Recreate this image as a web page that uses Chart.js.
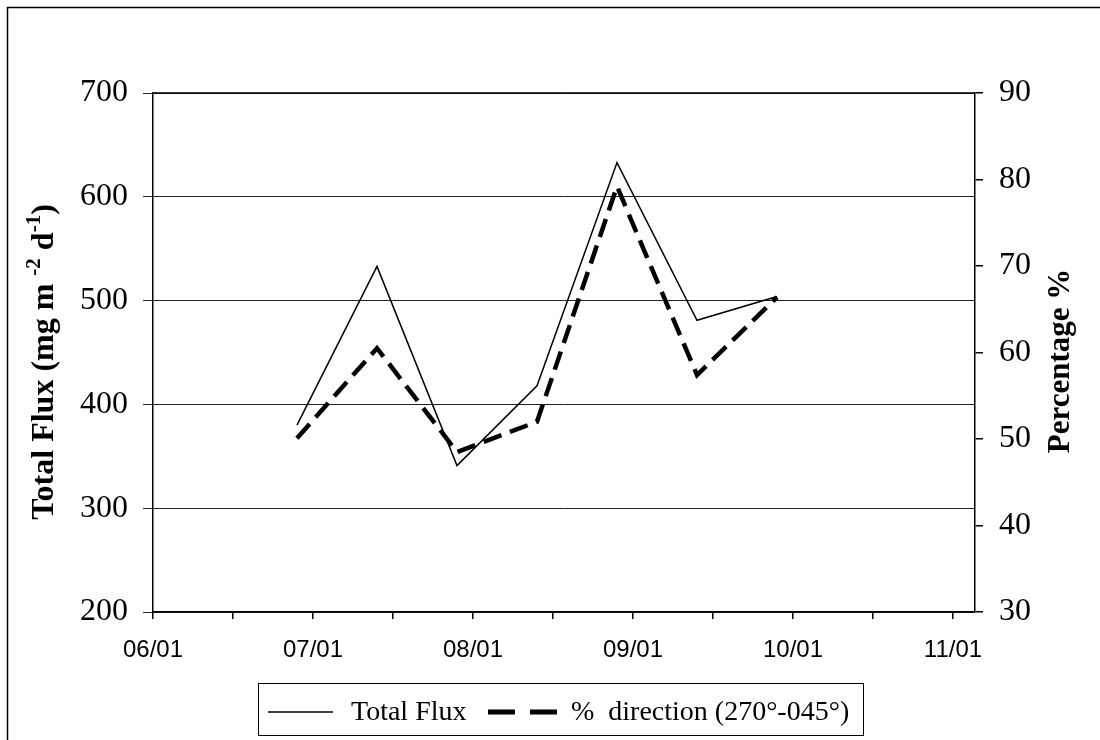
<!DOCTYPE html>
<html>
<head>
<meta charset="utf-8">
<script src="https://cdn.jsdelivr.net/npm/chart.js@4"></script>
<style>
  html, body { margin: 0; padding: 0; background: #fff; }
  #wrap { width: 1100px; height: 740px; }
</style>
</head>
<body>
<div id="wrap"><canvas id="myChart" width="1100" height="740"></canvas></div>
<script>
const ctx = document.getElementById('myChart');

// Sampling dates, in months after 06/01 (about every half month)
const sampleMonths = [0.9, 1.4, 1.9, 2.4, 2.9, 3.4, 3.9];
// Total flux (mg m-2 d-1), left axis
const totalFlux = [380, 533, 341, 418, 633, 481, 504];
// % of wind direction 270°-045°, right axis
const pctDirection = [50.1, 60.5, 48.5, 52.0, 79.2, 57.4, 66.4];
// x axis labels (one per month)
const monthLabels = ['06/01', '07/01', '08/01', '09/01', '10/01', '11/01'];

const serif = "'Liberation Serif', 'Times New Roman', serif";
const sans = "'Liberation Sans', Arial, sans-serif";

const toPoints = (ys) => ys.map((y, i) => ({ x: sampleMonths[i], y: y }));

// draws frame, axis titles and the boxed legend
const extras = {
    id: 'extras',
    afterDraw(chart) {
        const c = chart.ctx;
        const a = chart.chartArea;
        c.save();
        c.strokeStyle = '#000';

        // outer border of the chart object
        c.lineWidth = 1.5;
        c.strokeRect(7.5, 7.5, 1100, 740);

        // top edge of the plot box
        c.beginPath();
        c.moveTo(a.left, a.top);
        c.lineTo(a.right, a.top);
        c.stroke();

        c.fillStyle = '#000';
        // left title with superscripts
        c.save();
        c.translate(43, 362);
        c.rotate(-Math.PI / 2);
        const big = 'bold 32px ' + serif;
        const small = 'bold 21px ' + serif;
        const parts = [
            { t: 'Total Flux (mg m ', f: big, dy: 0 },
            { t: '-2', f: small, dy: -13 },
            { t: ' d', f: big, dy: 0 },
            { t: '-1', f: small, dy: -13 },
            { t: ')', f: big, dy: 0 }
        ];
        let w = 0;
        parts.forEach(p => { c.font = p.f; w += c.measureText(p.t).width; });
        let x = -w / 2;
        c.textBaseline = 'alphabetic';
        parts.forEach(p => {
            c.font = p.f;
            c.fillText(p.t, x, 10 + p.dy);
            x += c.measureText(p.t).width;
        });
        c.restore();

        // right title
        c.save();
        c.translate(1061, 361);
        c.rotate(-Math.PI / 2);
        c.font = 'bold 31px ' + serif;
        c.textAlign = 'center';
        c.textBaseline = 'middle';
        c.fillText('Percentage %', 0, 0);
        c.restore();

        // legend
        c.lineWidth = 1;
        c.strokeRect(258.5, 683.5, 605, 52);
        const ly = 712;
        c.lineWidth = 1.5;
        c.beginPath();
        c.moveTo(268, ly);
        c.lineTo(333, ly);
        c.stroke();
        c.lineWidth = 5;
        c.beginPath();
        c.moveTo(488, ly); c.lineTo(515, ly);
        c.moveTo(530, ly); c.lineTo(557, ly);
        c.stroke();
        c.font = '28px ' + serif;
        c.textBaseline = 'middle';
        c.textAlign = 'left';
        c.fillText('Total Flux', 351, ly + 1);
        c.fillText('%  direction (270°-045°)', 571, ly + 1);
        c.restore();
    }
};

new Chart(ctx, {
    type: 'line',
    data: {
        datasets: [{
            label: 'Total Flux',
            data: toPoints(totalFlux),
            yAxisID: 'y',
            borderColor: '#000',
            borderWidth: 1.5,
            pointRadius: 0,
            tension: 0
        }, {
            label: '% direction (270°-045°)',
            data: toPoints(pctDirection),
            yAxisID: 'y1',
            borderColor: '#000',
            borderWidth: 4.5,
            borderDash: [19, 9],
            pointRadius: 0,
            tension: 0
        }]
    },
    options: {
        responsive: false,
        animation: false,
        layout: { padding: { top: 93, left: 0, right: 0, bottom: 0 } },
        plugins: {
            legend: { display: false },
            tooltip: { enabled: false }
        },
        scales: {
            x: {
                type: 'linear',
                min: 0,
                max: 5.1375,
                afterBuildTicks: (scale) => {
                    const t = [];
                    for (let v = 0; v <= 5; v += 0.5) t.push({ value: v });
                    scale.ticks = t;
                },
                afterFit: (scale) => { scale.height = 128; },
                grid: { drawOnChartArea: false, drawTicks: true, tickLength: 7, color: '#000', lineWidth: 1.5 },
                border: { display: true, color: '#000', width: 1.5 },
                ticks: {
                    autoSkip: false,
                    maxRotation: 0,
                    padding: 17,
                    color: '#000',
                    font: { family: sans, size: 24 },
                    callback: (v) => Number.isInteger(v) ? monthLabels[v] : ''
                }
            },
            y: {
                position: 'left',
                min: 200,
                max: 700,
                afterFit: (scale) => { scale.width = 153; },
                grid: { color: '#222', lineWidth: 1, tickLength: 10 },
                border: { display: true, color: '#000', width: 1.5 },
                ticks: {
                    stepSize: 100,
                    padding: 15,
                    color: '#000',
                    font: { family: serif, size: 32 }
                }
            },
            y1: {
                position: 'right',
                min: 30,
                max: 90,
                afterFit: (scale) => { scale.width = 125; },
                grid: { drawOnChartArea: false, color: '#000', lineWidth: 1.5, tickLength: 8 },
                border: { display: true, color: '#000', width: 1.5 },
                ticks: {
                    stepSize: 10,
                    padding: 16,
                    color: '#000',
                    font: { family: serif, size: 32 }
                }
            }
        }
    },
    plugins: [extras]
});
</script>
</body>
</html>
